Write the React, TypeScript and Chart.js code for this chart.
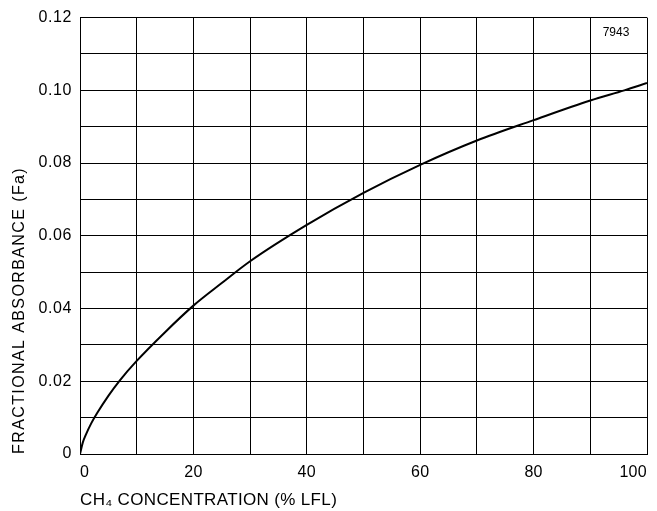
import React, { useEffect, useRef } from "react";
import { Chart, registerables } from "chart.js";

Chart.register(...registerables);

const concentration = [0, 0.5, 1, 2, 3, 5, 7, 10, 15, 20, 25, 30, 40, 50, 60, 70, 80, 90, 96, 100];
const absorbance = [0, 0.0032, 0.0052, 0.0085, 0.0112, 0.016, 0.0202, 0.0256, 0.0335, 0.0408, 0.047, 0.053, 0.063, 0.0718, 0.0795, 0.0862, 0.0918, 0.0972, 0.1, 0.102];

const xTickLabels: Record<number, string> = { 0: "0", 20: "20", 40: "40", 60: "60", 80: "80", 100: "100" };
const yTickLabels: Record<string, string> = {
  "0": "0",
  "0.02": "0.02",
  "0.04": "0.04",
  "0.06": "0.06",
  "0.08": "0.08",
  "0.1": "0.10",
  "0.12": "0.12",
};
const xTitle = "CH\u2084 CONCENTRATION (% LFL)";
const yTitle = "FRACTIONAL ABSORBANCE (Fa)";
const figureId = "7943";

const FONT = "'Liberation Sans', Arial, Helvetica, sans-serif";

function patchSpacing(s: any, titleSpacing: string, labelSpacing: string) {
  if (s.__patched) return;
  s.__patched = true;
  const origTitle = s.drawTitle.bind(s);
  s.drawTitle = (...args: any[]) => {
    const ctx = s.ctx;
    const prev = ctx.letterSpacing;
    ctx.letterSpacing = titleSpacing;
    origTitle(...args);
    ctx.letterSpacing = prev || "0px";
  };
  const origLabels = s.drawLabels.bind(s);
  s.drawLabels = (...args: any[]) => {
    const ctx = s.ctx;
    const prev = ctx.letterSpacing;
    ctx.letterSpacing = labelSpacing;
    origLabels(...args);
    ctx.letterSpacing = prev || "0px";
  };
}

export default function App() {
  const ref = useRef<HTMLCanvasElement | null>(null);
  useEffect(() => {
    if (!ref.current) return;
    const idPlugin = {
      id: "figid",
      afterDraw(chart: any) {
        const { ctx, chartArea } = chart;
        ctx.save();
        ctx.font = `12px ${FONT}`;
        ctx.fillStyle = "#000";
        ctx.textAlign = "center";
        ctx.textBaseline = "middle";
        ctx.fillText(figureId, chartArea.right - 31, chartArea.top + 15);
        ctx.restore();
      },
    };
    const chart = new Chart(ref.current, {
      type: "line",
      data: {
        datasets: [
          {
            data: concentration.map((x, i) => ({ x, y: absorbance[i] })),
            borderColor: "#000",
            borderWidth: 2,
            pointRadius: 0,
            cubicInterpolationMode: "monotone",
            fill: false,
          },
        ],
      },
      options: {
        animation: false,
        responsive: false,
        devicePixelRatio: 1,
        layout: { padding: { top: 16, right: 10, left: 0, bottom: 0 } },
        plugins: { legend: { display: false }, tooltip: { enabled: false } },
        scales: {
          x: {
            type: "linear",
            min: 0,
            max: 100,
            border: { color: "#000", width: 1 },
            grid: { color: "#000", lineWidth: 1, drawTicks: false },
            ticks: {
              stepSize: 10,
              align: "inner",
              padding: 9,
              color: "#000",
              font: { family: FONT, size: 16 },
              maxRotation: 0,
              autoSkip: false,
              callback: (v: any) => xTickLabels[Math.round(Number(v))] ?? "",
            },
            title: {
              display: true,
              text: xTitle,
              align: "start",
              color: "#000",
              font: { family: FONT, size: 17 },
              padding: { top: -1.5, bottom: 0 },
            },
            afterFit: (s: any) => {
              s.height = 57;
              patchSpacing(s, "0.35px", "0.3px");
            },
          },
          y: {
            min: 0,
            max: 0.12,
            border: { color: "#000", width: 1 },
            grid: { color: "#000", lineWidth: 1, drawTicks: false },
            ticks: {
              stepSize: 0.01,
              padding: 8,
              color: "#000",
              font: { family: FONT, size: 16 },
              autoSkip: false,
              callback: (v: any) => yTickLabels[String(Math.round(Number(v) * 100) / 100)] ?? "",
            },
            title: {
              display: true,
              text: yTitle,
              align: "start",
              color: "#000",
              font: { family: FONT, size: 16 },
              padding: { top: 10, bottom: 0 },
            },
            afterFit: (s: any) => {
              s.width = 80;
              patchSpacing(s, "1.4px", "0.6px");
            },
          },
        },
      },
      plugins: [idPlugin],
    });
    return () => chart.destroy();
  }, []);
  return (
    <div style={{ position: "absolute", left: 0, top: 0, width: 657, height: 511, background: "#fff" }}>
      <canvas ref={ref} width={657} height={511} style={{ display: "block" }} />
    </div>
  );
}
